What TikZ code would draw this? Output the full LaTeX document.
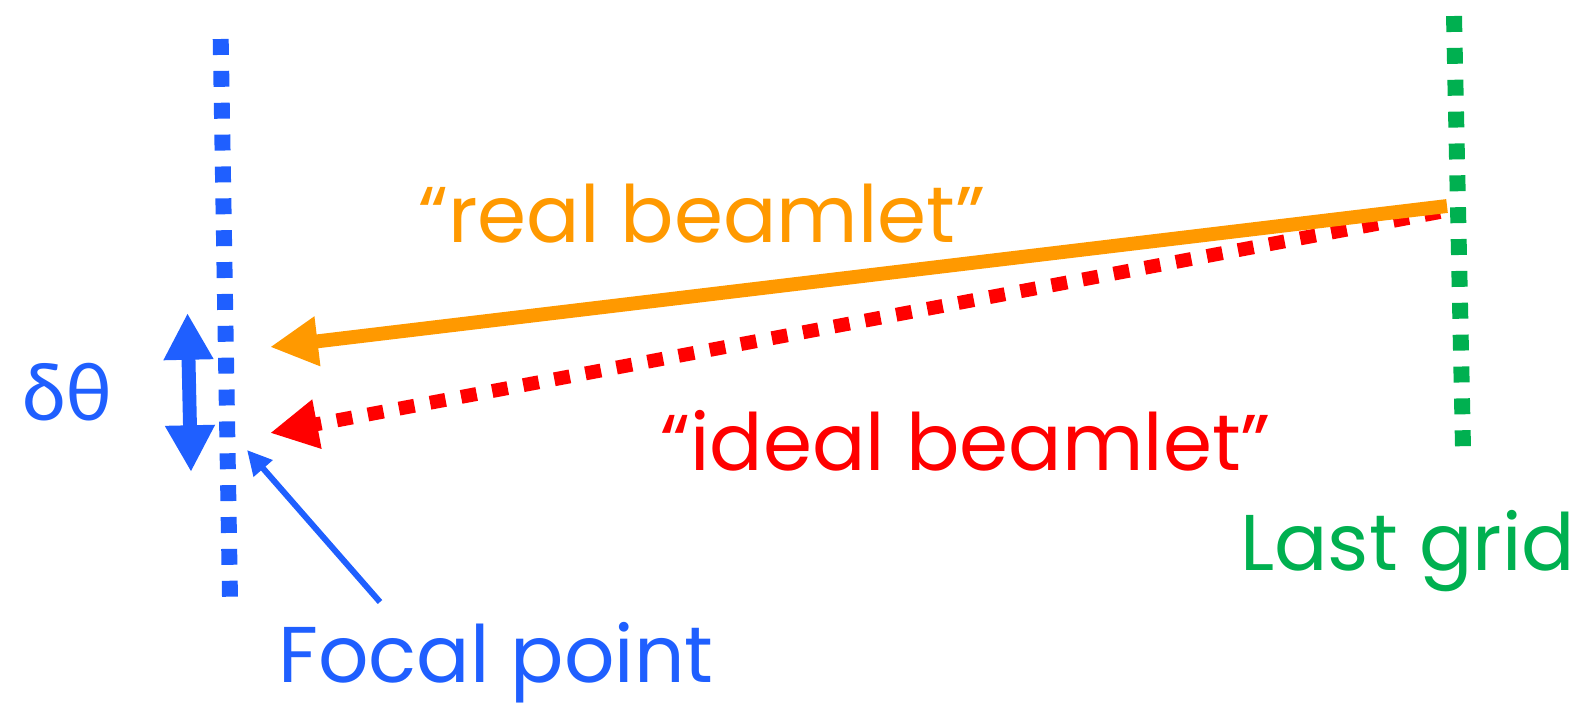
\documentclass[tikz,border=0pt]{standalone}
\usepackage{fontspec}
\setmainfont{Poppins}
\newfontfamily\greekfont{Lato}
\usepackage{tikz}
\usetikzlibrary{arrows.meta,positioning}

\definecolor{fblue}{RGB}{31,95,255}
\definecolor{borange}{RGB}{255,153,0}
\definecolor{bred}{RGB}{255,0,0}
\definecolor{ggreen}{RGB}{0,176,80}

\begin{document}
\begin{tikzpicture}[
  x=0.02cm, y=-0.02cm,
  lbl/.style={anchor=base west,inner sep=0pt,font=\fontsize{45}{50}\selectfont},
  grid/.style={line width=9.07pt,dash pattern=on 9.07pt off 9.07pt},
  beam/.style={line width=7.9pt,-{Triangle[length=27.2pt,width=26.6pt]}},
  thin/.style={line width=3.4pt,-{Triangle[length=14pt,width=13.6pt]}}
]
\useasboundingbox (0,0) rectangle (1577,711);

% focal plane and last grid
\coordinate (fpTop) at (220.7,39);
\coordinate (fpBot) at (230,598);
\coordinate (lgTop) at (1454,16);
\coordinate (lgBot) at (1463,448);
\draw[grid,fblue] (fpTop) -- (fpBot);
\draw[grid,ggreen] (lgTop) -- (lgBot);

% beamlets
\coordinate (realS) at (1447,206);
\coordinate (realE) at (270,347);
\coordinate (idealS) at (1440,212);
\coordinate (idealE) at (270,433);
\draw[beam,bred,dash pattern=on 9pt off 9pt] (idealS) -- (idealE);
\draw[beam,borange] (realS) -- (realE);

% angular spread
\coordinate (dtTop) at (187.5,313);
\coordinate (dtBot) at (191,472);
\draw[line width=7.9pt,fblue,{Triangle[length=26.6pt,width=26.6pt]}-{Triangle[length=26.6pt,width=26.6pt]}] (dtTop) -- (dtBot);

% labels
\node[lbl,text=borange] (real) at (418,242) {“real beamlet”};
\node[lbl,text=bred] (ideal) at (660,470) {“ideal beamlet”};
\node[lbl,text=ggreen] (last) at (1240,570) {Last grid};
\node[lbl,text=fblue] (focal) at (278,682) {Focal point};
\node[lbl,text=fblue] (dtheta) at (22,420) {\greekfont δθ};

\coordinate (fpTail) at (380,602);
\coordinate (fpTip) at (247,450);
\draw[thin,fblue] (fpTail) -- (fpTip);
\end{tikzpicture}
\end{document}
